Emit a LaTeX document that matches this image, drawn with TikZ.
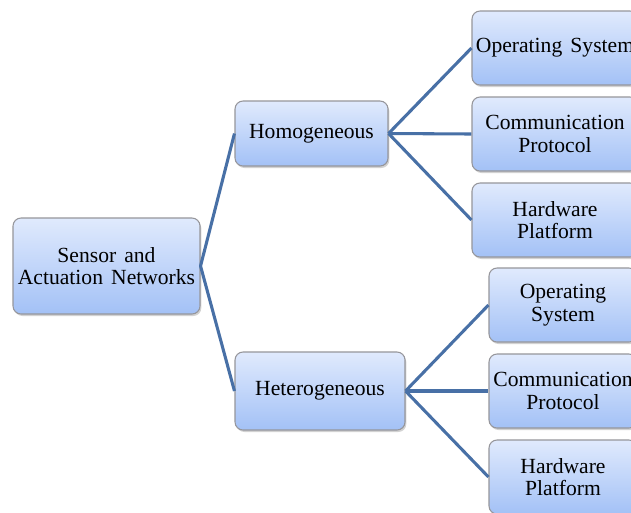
\documentclass[tikz,border=0pt]{standalone}
\usepackage{fontspec}
\setmainfont[WordSpace={1.5,1,1}]{Liberation Serif}
\usetikzlibrary{shadows}
\definecolor{boxtop}{RGB}{224,234,253}
\definecolor{boxbot}{RGB}{163,193,246}
\definecolor{boxline}{RGB}{150,150,155}
\definecolor{link}{RGB}{72,112,166}
\tikzset{
  box/.style={draw=boxline, line width=0.8pt, rounded corners=6pt,
    top color=boxtop, bottom color=boxbot, align=center,
    font=\fontsize{16.2}{16.8}\selectfont, inner sep=0pt,
    drop shadow={opacity=0.35, shadow xshift=1pt, shadow yshift=-1.5pt}},
  link/.style={draw=link, line width=2.3pt, line join=round}
}
\begin{document}
\begin{tikzpicture}[x=0.75pt, y=-0.75pt]
\clip (0,0) rectangle (631,512);
\fill[white] (0,0) rectangle (631,512);

\node[box, minimum width=140.25pt, minimum height=72pt] (root) at (106.5,266) {Sensor and\\Actuation Networks};

\node[box, minimum width=114.75pt, minimum height=48.75pt] (homo) at (311.5,133.5) {Homogeneous};
\node[box, minimum width=127.5pt, minimum height=58.5pt] (hetero) at (320,391) {Heterogeneous};

\node[box, minimum width=124.5pt, minimum height=55.5pt] (os1) at (555,48) {Operating System};
\node[box, minimum width=124.5pt, minimum height=55.5pt] (cp1) at (555,134) {Communication\\Protocol};
\node[box, minimum width=124.5pt, minimum height=55.5pt] (hw1) at (555,220) {Hardware\\Platform};

\node[box, minimum width=111pt, minimum height=55.5pt] (os2) at (563,305) {Operating\\System};
\node[box, minimum width=111pt, minimum height=55.5pt] (cp2) at (563,391) {Communication\\Protocol};
\node[box, minimum width=111pt, minimum height=55.5pt] (hw2) at (563,477) {Hardware\\Platform};

\draw[link] (homo.west) -- (root.east) -- (hetero.west);
\draw[link] (homo.east) -- (os1.west);
\draw[link] (homo.east) -- (cp1.west);
\draw[link] (homo.east) -- (hw1.west);
\draw[link] (hetero.east) -- (os2.west);
\draw[link] (hetero.east) -- (cp2.west);
\draw[link] (hetero.east) -- (hw2.west);
\end{tikzpicture}
\end{document}
